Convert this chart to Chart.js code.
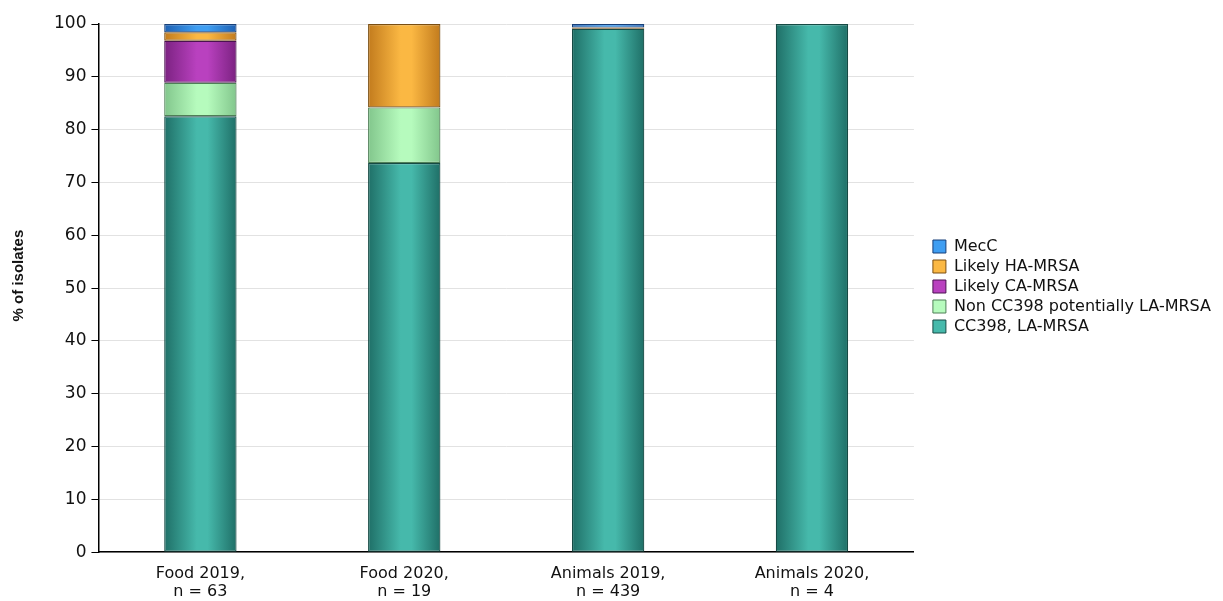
<!DOCTYPE html>
<html>
<head>
<meta charset="utf-8">
<script src="https://cdn.jsdelivr.net/npm/chart.js@4"></script>
<style>
  html, body { margin: 0; padding: 0; background: #fff; }
  #wrap { width: 1223px; height: 601px; position: relative; }
</style>
</head>
<body>
<div id="wrap"><canvas id="mrsaChart"></canvas></div>
<script>
// Data (% of isolates)
var categories = [['Food 2019,', 'n = 63'], ['Food 2020,', 'n = 19'], ['Animals 2019,', 'n = 439'], ['Animals 2020,', 'n = 4']];
var cc398 = [82.54, 73.68, 99.09, 100];
var nonCC398 = [6.35, 10.53, 0, 0];
var likelyCA = [7.94, 0, 0, 0];
var likelyHA = [1.59, 15.79, 0.23, 0];
var mecC = [1.59, 0, 0.68, 0];
var yTicks = [0, 10, 20, 30, 40, 50, 60, 70, 80, 90, 100];

var BAR_PCT = 0.355;
var LEGEND_SHIFT = 15;
var LEGEND_LIFT = -32;

// cylinder-like shading across each bar
function barFill(base, dark) {
    return function(ctx) {
        var chart = ctx.chart;
        var xs = chart.scales.x;
        if (ctx.type !== 'data' || !xs || !chart.chartArea) return base;
        var cx = xs.getPixelForValue(ctx.dataIndex);
        var half = (xs.width / categories.length) * BAR_PCT / 2;
        if (!isFinite(cx) || !isFinite(half)) return base;
        var g = chart.ctx.createLinearGradient(cx - half, 0, cx + half, 0);
        g.addColorStop(0, dark);
        g.addColorStop(0.45, base);
        g.addColorStop(0.6, base);
        g.addColorStop(1, dark);
        return g;
    };
}

function series(label, data, base, dark, border) {
    return {
        label: label,
        data: data,
        baseColor: base,
        backgroundColor: barFill(base, dark),
        borderColor: border,
        borderWidth: 1.2,
        borderSkipped: false,
        inflateAmount: 0,
        categoryPercentage: 1,
        barPercentage: BAR_PCT
    };
}

// push legend a bit away from the plot, like the original
var legendShift = {
    id: 'legendShift',
    afterInit: function(chart) {
        var lg = chart.legend;
        if (!lg) return;
        var fit = lg.fit, draw = lg.draw;
        lg.fit = function() { fit.apply(this, arguments); this.width += LEGEND_SHIFT; };
        lg.draw = function() {
            var c = this.ctx;
            c.save();
            c.translate(LEGEND_SHIFT, LEGEND_LIFT);
            draw.apply(this, arguments);
            c.restore();
        };
    }
};

new Chart(document.getElementById('mrsaChart'), {
    type: 'bar',
    data: {
        labels: categories,
        datasets: [
            series('CC398, LA-MRSA', cc398, '#46b9ab', '#1f6f67', '#164a44'),
            series('Non CC398 potentially LA-MRSA', nonCC398, '#b6fbbd', '#82c68c', '#4f7f57'),
            series('Likely CA-MRSA', likelyCA, '#b941bf', '#7b2281', '#4a1250'),
            series('Likely HA-MRSA', likelyHA, '#fbb843', '#c27b1d', '#7a4e12'),
            series('MecC', mecC, '#3f9ef2', '#1e60b2', '#173f78')
        ]
    },
    plugins: [legendShift],
    options: {
        responsive: true,
        maintainAspectRatio: false,
        animation: false,
        layout: { padding: { left: 4, right: 2, top: 24, bottom: -12 } },
        scales: {
            x: {
                stacked: true,
                grid: { display: false, drawTicks: false },
                border: { display: true, color: '#000', width: 1.5 },
                ticks: { color: '#111', font: { family: 'DejaVu Sans', size: 16, lineHeight: 1.15 }, padding: 12 }
            },
            y: {
                stacked: true,
                min: 0,
                max: 100,
                afterBuildTicks: function(axis) { axis.ticks = yTicks.map(function(v) { return { value: v }; }); },
                grid: { color: '#e2e2e2', tickColor: '#000', tickLength: 7 },
                border: { display: true, color: '#000', width: 1.5 },
                ticks: { color: '#111', font: { family: 'DejaVu Sans', size: 17 }, padding: 5 },
                // leading spaces lift the rotated title a little, as in the original
                title: { display: true, text: '      % of isolates', color: '#111', font: { family: 'Liberation Sans', size: 15, weight: 'bold' }, padding: { top: 6, bottom: 21 } }
            }
        },
        plugins: {
            legend: {
                position: 'right',
                reverse: true,
                labels: {
                    color: '#111',
                    font: { family: 'DejaVu Sans', size: 16 },
                    boxWidth: 13,
                    boxHeight: 13,
                    padding: 4,
                    generateLabels: function(chart) {
                        var items = Chart.defaults.plugins.legend.labels.generateLabels(chart);
                        items.forEach(function(it) {
                            var ds = chart.data.datasets[it.datasetIndex];
                            it.fillStyle = ds.baseColor;
                            it.strokeStyle = ds.borderColor;
                            it.lineWidth = 1;
                        });
                        return items;
                    }
                }
            },
            tooltip: { enabled: false }
        }
    }
});
</script>
</body>
</html>
